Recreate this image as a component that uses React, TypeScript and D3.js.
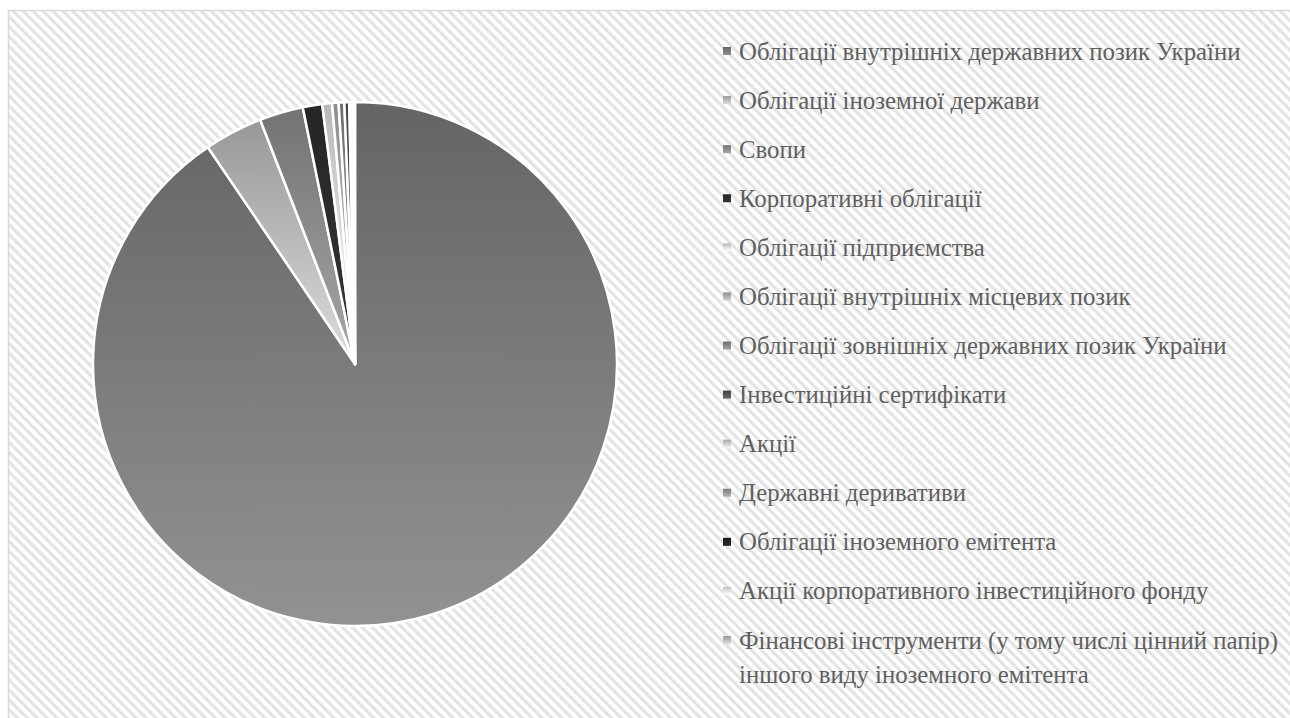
import * as d3 from "d3";
import { useEffect, useRef } from "react";

// категорії та частки (%), прочитані з діаграми
const categories = [
  "Облігації внутрішніх державних позик України",
  "Облігації іноземної держави",
  "Свопи",
  "Корпоративні облігації",
  "Облігації підприємства",
  "Облігації внутрішніх місцевих позик",
  "Облігації зовнішніх державних позик України",
  "Інвестиційні сертифікати",
  "Акції",
  "Державні деривативи",
  "Облігації іноземного емітента",
  "Акції корпоративного інвестиційного фонду",
  "Фінансові інструменти (у тому числі цінний папір) іншого виду іноземного емітента",
];
const shares = [90.6, 3.6, 2.7, 1.2, 0.6, 0.4, 0.35, 0.3, 0.15, 0.1, 0.05, 0.03, 0.02];
const baseColours = [
  "#7c7c7c", "#bcbcbc", "#8e8e8e", "#2e2e2e", "#e4e4e4", "#b0b0b0", "#8a8a8a",
  "#555555", "#cfcfcf", "#9a9a9a", "#222222", "#eeeeee", "#bdbdbd",
];

const W = 1290;
const H = 718;

export default function App() {
  const ref = useRef<SVGSVGElement>(null);

  useEffect(() => {
    const svg = d3.select(ref.current);
    svg.selectAll("*").remove();
    const defs = svg.append("defs");

    const pattern = defs
      .append("pattern")
      .attr("id", "bg-stripes")
      .attr("patternUnits", "userSpaceOnUse")
      .attr("width", 7)
      .attr("height", 7)
      .attr("patternTransform", "rotate(-45)");
    pattern.append("rect").attr("width", 7).attr("height", 7).attr("fill", "#ffffff");
    pattern.append("rect").attr("width", 3.2).attr("height", 7).attr("fill", "#e3e3e3");

    baseColours.forEach((c, i) => {
      const g = defs
        .append("linearGradient")
        .attr("id", `slice-grad-${i}`)
        .attr("x1", "0%")
        .attr("y1", "0%")
        .attr("x2", "0%")
        .attr("y2", "100%");
      g.append("stop").attr("offset", "0%").attr("stop-color", d3.color(c)!.darker(0.6).formatHex());
      g.append("stop").attr("offset", "100%").attr("stop-color", d3.color(c)!.brighter(0.45).formatHex());
    });

    // chart area with pattern
    svg
      .append("rect")
      .attr("x", 8.5)
      .attr("y", 10.5)
      .attr("width", W)
      .attr("height", H)
      .attr("fill", "url(#bg-stripes)")
      .attr("stroke", "#d9d9d9")
      .attr("stroke-width", 1.5);

    const cx = 355;
    const cy = 364;
    const radius = 262;

    const pie = d3
      .pie<number>()
      .sort(null)
      .value((d) => d)
      .startAngle(0)
      .endAngle(2 * Math.PI);
    const arc = d3.arc<d3.PieArcDatum<number>>().innerRadius(0).outerRadius(radius);

    svg
      .append("g")
      .attr("transform", `translate(${cx},${cy})`)
      .selectAll("path")
      .data(pie(shares))
      .enter()
      .append("path")
      .attr("d", arc)
      .attr("fill", (_d, i) => `url(#slice-grad-${i})`)
      .attr("stroke", "#ffffff")
      .attr("stroke-width", 2.5)
      .attr("stroke-linejoin", "round");

    // legend
    const y = d3
      .scalePoint<string>()
      .domain(categories)
      .range([51, 640]);

    const legend = svg
      .append("g")
      .style("font-family", "'Liberation Serif', 'Times New Roman', serif")
      .style("font-size", "24.8px")
      .attr("fill", "#5f5f5f");

    const items = legend
      .selectAll("g")
      .data(categories)
      .enter()
      .append("g")
      .attr("transform", (d) => `translate(723,${y(d)})`);

    items
      .append("rect")
      .attr("x", 0)
      .attr("y", -4)
      .attr("width", 8)
      .attr("height", 8)
      .attr("fill", (_d, i) => `url(#slice-grad-${i})`);

    items.each(function (d) {
      const t = d3.select(this).append("text").attr("x", 16).attr("y", 8.5);
      if (d.length > 60) {
        t.append("tspan").attr("x", 16).attr("dy", 0).text("Фінансові інструменти (у тому числі цінний папір)");
        t.append("tspan").attr("x", 16).attr("dy", 34).text("іншого виду іноземного емітента");
      } else {
        t.text(d);
      }
    });
  }, []);

  return (
    <svg
      ref={ref}
      width={W}
      height={H}
      style={{ position: "absolute", left: 0, top: 0, background: "#ffffff" }}
    />
  );
}
